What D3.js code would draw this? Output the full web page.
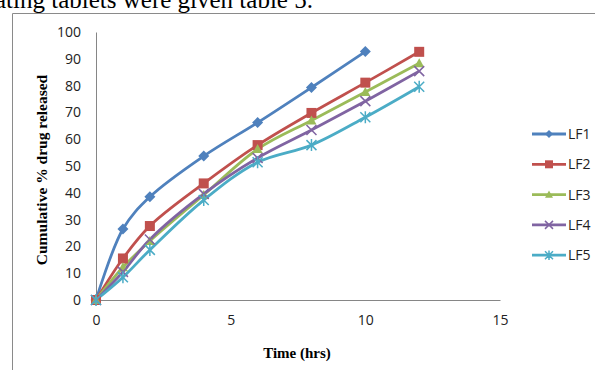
<!DOCTYPE html>
<html>
<head>
<meta charset="utf-8">
<script src="https://cdn.jsdelivr.net/npm/d3@7"></script>
<style>
body { margin: 0; background: #fff; }
svg { display: block; }
</style>
</head>
<body>
<div id="chart"></div>
<script>
// dissolution data
var seriesNames = ["LF1", "LF2", "LF3", "LF4", "LF5"];
var timeLF1 = [0, 1, 2, 4, 6, 8, 10];
var timeAll = [0, 1, 2, 4, 6, 8, 10, 12];
var lf1 = [0, 26.5, 38.5, 53.7, 66.2, 79.3, 92.7];
var lf2 = [0, 15.5, 27.6, 43.5, 57.8, 69.8, 81.1, 92.6];
var lf3 = [0, 12.2, 22.0, 39.2, 56.3, 67.0, 77.6, 88.3];
var lf4 = [0, 10.5, 22.6, 39.6, 53.0, 63.4, 74.2, 85.4];
var lf5 = [0, 8.5, 18.7, 37.3, 51.4, 57.8, 68.2, 79.6];
var xTicks = [0, 5, 10, 15];
var yTicks = [0, 10, 20, 30, 40, 50, 60, 70, 80, 90, 100];

var colors = ["#4F81BD", "#C0504D", "#9BBB59", "#8064A2", "#4BACC6"];
var symbols = ["diamond", "square", "triangle", "x", "asterisk"];

var series = [
  {name: seriesNames[0], t: timeLF1, v: lf1},
  {name: seriesNames[1], t: timeAll, v: lf2},
  {name: seriesNames[2], t: timeAll, v: lf3},
  {name: seriesNames[3], t: timeAll, v: lf4},
  {name: seriesNames[4], t: timeAll, v: lf5}
];

var width = 595, height = 370;

var svg = d3.select("#chart").append("svg")
  .attr("width", width)
  .attr("height", height);

// cropped document text at the top
svg.append("text")
  .attr("x", -5)
  .attr("y", 8)
  .style("font-family", "'Liberation Serif', 'Times New Roman', serif")
  .style("font-size", "25px")
  .text("ating tablets were given table 5.");

// chart frame (only left/top visible)
svg.append("path")
  .attr("d", "M12.5,370 L12.5,13.5 L595,13.5")
  .attr("fill", "none")
  .attr("stroke", "#8a8a8a")
  .attr("stroke-width", 1);

var x = d3.scaleLinear().domain([0, 15]).range([96, 500]);
var y = d3.scaleLinear().domain([0, 100]).range([300, 32]);

var g = svg.append("g");

var yAxis = g.append("g")
  .attr("transform", "translate(" + x(0) + ",0)")
  .call(d3.axisLeft(y).tickValues(yTicks).tickSize(0).tickPadding(15));
yAxis.select(".domain").attr("stroke", "#868686");

var xAxis = g.append("g")
  .attr("transform", "translate(0," + y(0) + ")")
  .call(d3.axisBottom(x).tickValues(xTicks).tickSize(0).tickPadding(15));
xAxis.select(".domain").attr("stroke", "#868686");

g.selectAll(".tick text")
  .style("font-family", "'Open Sans', 'Liberation Sans', sans-serif")
  .style("font-size", "14px")
  .attr("fill", "#222");

// axis titles
svg.append("text")
  .attr("x", 297)
  .attr("y", 358)
  .attr("text-anchor", "middle")
  .style("font-family", "'Liberation Serif', 'Times New Roman', serif")
  .style("font-weight", "bold")
  .style("font-size", "15px")
  .text("Time (hrs)");

svg.append("text")
  .attr("transform", "translate(47,170) rotate(-90)")
  .attr("text-anchor", "middle")
  .style("font-family", "'Liberation Serif', 'Times New Roman', serif")
  .style("font-weight", "bold")
  .style("font-size", "15.5px")
  .text("Cumulative % drug released");

function drawMarker(sel, type, color, s) {
  if (type === "diamond") {
    sel.append("path").attr("d", "M0,-" + s + " L" + s + ",0 L0," + s + " L-" + s + ",0Z").attr("fill", color);
  } else if (type === "square") {
    sel.append("rect").attr("x", -s).attr("y", -s).attr("width", 2 * s).attr("height", 2 * s).attr("fill", color);
  } else if (type === "triangle") {
    sel.append("path").attr("d", "M0,-" + s + " L" + s + "," + (s * 0.8) + " L-" + s + "," + (s * 0.8) + "Z").attr("fill", color);
  } else if (type === "x") {
    sel.append("path").attr("d", "M-" + s + ",-" + s + " L" + s + "," + s + " M-" + s + "," + s + " L" + s + ",-" + s)
      .attr("stroke", color).attr("stroke-width", 1.5).attr("fill", "none");
  } else if (type === "asterisk") {
    sel.append("path").attr("d", "M-" + s + ",-" + s + " L" + s + "," + s + " M-" + s + "," + s + " L" + s + ",-" + s + " M0,-" + (s * 1.2) + " L0," + (s * 1.2))
      .attr("stroke", color).attr("stroke-width", 1.5).attr("fill", "none");
  }
}

var line = d3.line()
  .x(function(d) { return x(d[0]); })
  .y(function(d) { return y(d[1]); })
  .curve(d3.curveCatmullRom.alpha(0.5));

series.forEach(function(s, i) {
  var pts = s.t.map(function(t, j) { return [t, s.v[j]]; });
  g.append("path")
    .datum(pts)
    .attr("d", line)
    .attr("fill", "none")
    .attr("stroke", colors[i])
    .attr("stroke-width", 2.8);
});

series.forEach(function(s, i) {
  s.t.forEach(function(t, j) {
    var m = g.append("g").attr("transform", "translate(" + x(t) + "," + y(s.v[j]) + ")");
    drawMarker(m, symbols[i], colors[i], i === 0 ? 5.5 : 5);
  });
});

// legend
var legend = svg.append("g");
seriesNames.forEach(function(name, i) {
  var ly = 134 + i * 30.3;
  var row = legend.append("g").attr("transform", "translate(0," + ly + ")");
  row.append("line")
    .attr("x1", 532).attr("x2", 566)
    .attr("y1", 0).attr("y2", 0)
    .attr("stroke", colors[i])
    .attr("stroke-width", 2.8);
  var m = row.append("g").attr("transform", "translate(549,0)");
  drawMarker(m, symbols[i], colors[i], 4);
  row.append("text")
    .attr("x", 568)
    .attr("y", 5)
    .style("font-family", "'Open Sans', 'Liberation Sans', sans-serif")
    .style("font-size", "14px")
    .attr("fill", "#222")
    .text(name);
});
</script>
</body>
</html>
